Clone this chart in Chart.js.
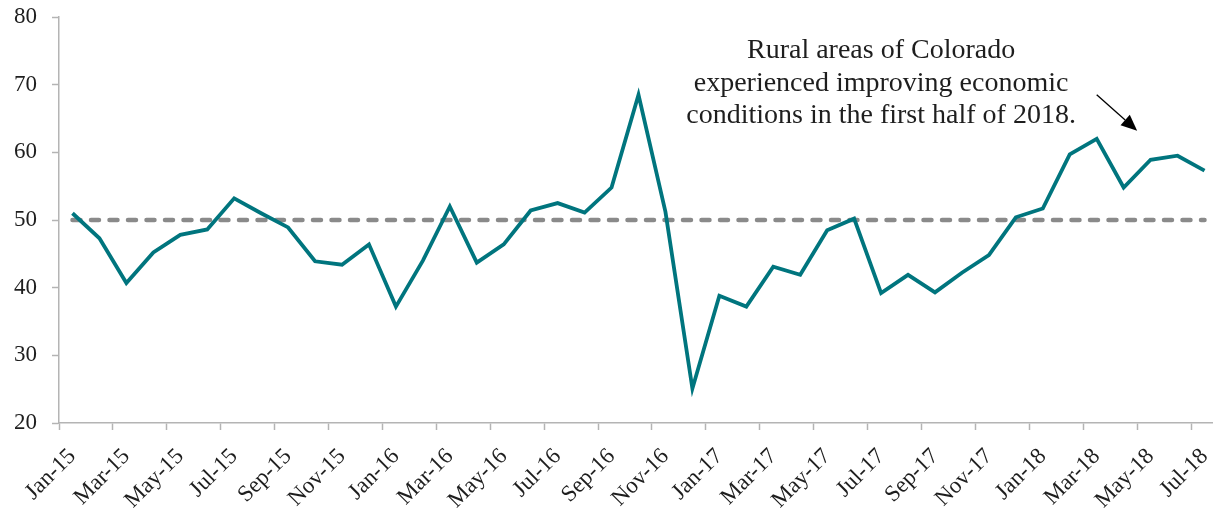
<!DOCTYPE html>
<html>
<head>
<meta charset="utf-8">
<script src="https://cdn.jsdelivr.net/npm/chart.js@4"></script>
<style>
  html, body { margin: 0; padding: 0; overflow: hidden; background: #fff; }
  #wrap { width: 1218px; height: 512px; position: relative; }
</style>
</head>
<body>
<div id="wrap"><canvas id="chart"></canvas></div>
<script>
// monthly index readings, Jan-15 .. Jul-18
const months = [
  'Jan-15','Feb-15','Mar-15','Apr-15','May-15','Jun-15','Jul-15','Aug-15','Sep-15','Oct-15','Nov-15','Dec-15',
  'Jan-16','Feb-16','Mar-16','Apr-16','May-16','Jun-16','Jul-16','Aug-16','Sep-16','Oct-16','Nov-16','Dec-16',
  'Jan-17','Feb-17','Mar-17','Apr-17','May-17','Jun-17','Jul-17','Aug-17','Sep-17','Oct-17','Nov-17','Dec-17',
  'Jan-18','Feb-18','Mar-18','Apr-18','May-18','Jun-18','Jul-18'
];
const ruralIndex = [
  51.0, 47.3, 40.7, 45.2, 47.8, 48.6, 53.2, 51.0, 48.9, 43.9, 43.4, 46.4,
  37.2, 44.0, 52.0, 43.7, 46.4, 51.4, 52.5, 51.1, 54.8, 68.5, 51.2, 25.1,
  38.8, 37.2, 43.1, 41.9, 48.5, 50.2, 39.2, 41.9, 39.3, 42.2, 44.8, 50.4,
  51.7, 59.7, 62.0, 54.8, 58.9, 59.5, 57.3
];
// growth-neutral line at 50
const neutralSpan = ['Jan-15', 'Jul-18'];
const neutralLevel = [50, 50];

const yTicks = [20, 30, 40, 50, 60, 70, 80];

// annotation, anchored in data units (category index, value)
const noteLines = [
  'Rural areas of Colorado',
  'experienced improving economic',
  'conditions in the first half of 2018.'
];
const noteAt = 30;
const noteBaselines = [73.9, 69.05, 64.3];
const arrowFrom = [38.0, 68.5];
const arrowTo = [39.5, 63.2];

const TEAL = '#00757E';
const DASH_GRAY = '#8a8a8a';
const AXIS_GRAY = '#b4b4b4';
const TEXT = '#1e1e1e';
const SERIF = '"Liberation Serif", "DejaVu Serif", serif';

const notePlugin = {
  id: 'note',
  afterDraw(chart) {
    const c = chart.ctx, xs = chart.scales.x, ys = chart.scales.y;
    c.save();
    c.fillStyle = TEXT;
    c.font = '28px ' + SERIF;
    c.textAlign = 'center';
    c.textBaseline = 'alphabetic';
    noteLines.forEach((t, i) => {
      c.fillText(t, xs.getPixelForValue(noteAt), ys.getPixelForValue(noteBaselines[i]));
    });
    // arrow
    const x0 = xs.getPixelForValue(arrowFrom[0]), y0 = ys.getPixelForValue(arrowFrom[1]);
    const x1 = xs.getPixelForValue(arrowTo[0]), y1 = ys.getPixelForValue(arrowTo[1]);
    const ang = Math.atan2(y1 - y0, x1 - x0);
    const headLen = 16, headW = 7;
    const bx = x1 - headLen * Math.cos(ang), by = y1 - headLen * Math.sin(ang);
    c.strokeStyle = '#000';
    c.lineWidth = 1.3;
    c.beginPath();
    c.moveTo(x0, y0);
    c.lineTo(bx, by);
    c.stroke();
    c.fillStyle = '#000';
    c.beginPath();
    c.moveTo(x1, y1);
    c.lineTo(bx + headW * Math.sin(ang), by - headW * Math.cos(ang));
    c.lineTo(bx - headW * Math.sin(ang), by + headW * Math.cos(ang));
    c.closePath();
    c.fill();
    c.restore();
  }
};

new Chart(document.getElementById('chart'), {
  type: 'line',
  data: {
    labels: months,
    datasets: [
      {
        label: 'Neutral',
        data: neutralSpan.map((m, i) => ({ x: m, y: neutralLevel[i] })),
        borderColor: DASH_GRAY,
        borderWidth: 4.5,
        borderDash: [8, 10.5],
        borderCapStyle: 'round',
        pointRadius: 0,
        fill: false,
        order: 2
      },
      {
        label: 'Rural Colorado',
        data: ruralIndex,
        borderColor: TEAL,
        borderWidth: 3.8,
        borderJoinStyle: 'miter',
        pointRadius: 0,
        tension: 0,
        fill: false,
        order: 1
      }
    ]
  },
  options: {
    responsive: true,
    maintainAspectRatio: false,
    animation: false,
    layout: { padding: { top: 17, right: 0, left: 0, bottom: 0 } },
    plugins: {
      legend: { display: false },
      tooltip: { enabled: false }
    },
    scales: {
      x: {
        type: 'category',
        offset: true,
        afterFit: (s) => { s.height = 89; s.paddingLeft = 0; s.paddingRight = 0; },
        border: { display: true, color: AXIS_GRAY, width: 1.5 },
        grid: {
          offset: true,
          drawOnChartArea: false,
          drawTicks: true,
          tickLength: 7,
          tickWidth: 1.5,
          tickColor: (ctx) => (ctx.index % 2 === 0 ? AXIS_GRAY : 'rgba(0,0,0,0)')
        },
        ticks: {
          autoSkip: false,
          minRotation: 45,
          maxRotation: 45,
          padding: 13,
          color: TEXT,
          font: { family: SERIF, size: 23 },
          callback: function (val, i) { return i % 2 === 0 ? this.getLabelForValue(val) : ''; }
        }
      },
      y: {
        min: 20,
        max: 80,
        afterFit: (s) => { s.width = 59; s.paddingTop = 0; s.paddingBottom = 0; },
        afterBuildTicks: (s) => { s.ticks = yTicks.map(v => ({ value: v })); },
        border: { display: true, color: AXIS_GRAY, width: 1.5 },
        grid: {
          drawOnChartArea: false,
          drawTicks: true,
          tickLength: 7,
          tickWidth: 1.5,
          color: AXIS_GRAY
        },
        ticks: {
          padding: 15,
          color: TEXT,
          font: { family: SERIF, size: 23 }
        }
      }
    }
  },
  plugins: [notePlugin]
});
</script>
</body>
</html>
